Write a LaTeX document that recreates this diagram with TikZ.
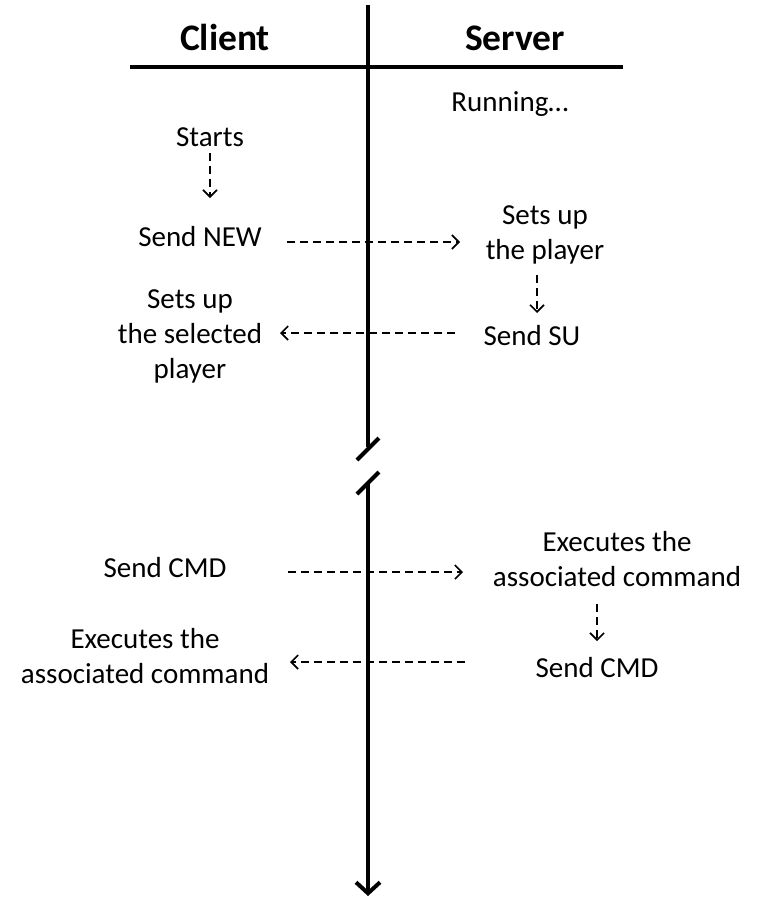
\documentclass[tikz,border=0pt]{standalone}
\usepackage{fontspec}
\setmainfont{Carlito}
\usetikzlibrary{arrows.meta}
\begin{document}
\begin{tikzpicture}[x=1pt,y=-1pt,
  lbl/.style={font=\fontsize{29}{35}\selectfont, align=center, inner sep=0pt, anchor=base},
  hdr/.style={font=\fontsize{37.5}{44}\selectfont\bfseries, inner sep=0pt, anchor=base},
  msg/.style={line width=1.6pt, dash pattern=on 8pt off 5pt, -{Straight Barb[length=7pt,width=14pt,line width=1.6pt]}},
  axis/.style={line width=4pt},
  brk/.style={line width=4pt}]
\useasboundingbox (0,0) rectangle (763,921);
% header
\node[hdr] (client) at (225,50) {Client};
\node[hdr] (server) at (515,50) {Server};
\coordinate (hl) at (130,67);
\coordinate (hr) at (623,67);
\draw[axis] (hl) -- (hr);
% time axis
\coordinate (ax0) at (368,5);
\coordinate (ax1) at (368,447);
\coordinate (ax2) at (368,484);
\coordinate (ax3) at (368,896);
\draw[axis] (ax0) -- (ax1);
\draw[axis, -{Straight Barb[length=11pt,width=24pt,line width=4pt]}] (ax2) -- (ax3);
\coordinate (b1a) at (357,460);
\coordinate (b1b) at (379,438);
\coordinate (b2a) at (357,494);
\coordinate (b2b) at (379,472);
\draw[brk] (b1a) -- (b1b);
\draw[brk] (b2a) -- (b2b);
% texts (multi-line nodes are anchored at the baseline of their last line)
\node[lbl] (running) at (510,111) {Running…};
\node[lbl] (starts) at (210,146) {Starts};
\node[lbl] (sendnew) at (200,246) {Send NEW};
\node[lbl] (setsup) at (545,259) {Sets up\\the player};
\node[lbl] (sendsu) at (532,345) {Send SU};
\node[lbl] (setsel) at (190,378) {Sets up\\the selected\\player};
\node[lbl] (sendcmd) at (165,577) {Send CMD};
\node[lbl] (execr) at (617,586) {Executes the\\associated command};
\node[lbl] (sendcmdr) at (597,677) {Send CMD};
\node[lbl] (execl) at (145,683) {Executes the\\associated command};
% message arrows
\coordinate (m1a) at (287,242);
\coordinate (m1b) at (460,242);
\coordinate (m2a) at (455,333);
\coordinate (m2b) at (280,333);
\coordinate (m3a) at (288,572);
\coordinate (m3b) at (463,572);
\coordinate (m4a) at (465,662);
\coordinate (m4b) at (290,662);
\draw[msg] (m1a) -- (m1b);
\draw[msg] (m2a) -- (m2b);
\draw[msg] (m3a) -- (m3b);
\draw[msg] (m4a) -- (m4b);
% local arrows
\coordinate (s1a) at (210,153);
\coordinate (s1b) at (210,198);
\coordinate (s2a) at (537,275);
\coordinate (s2b) at (537,313);
\coordinate (s3a) at (597,604);
\coordinate (s3b) at (597,641);
\draw[msg] (s1a) -- (s1b);
\draw[msg] (s2a) -- (s2b);
\draw[msg] (s3a) -- (s3b);
\end{tikzpicture}
\end{document}
